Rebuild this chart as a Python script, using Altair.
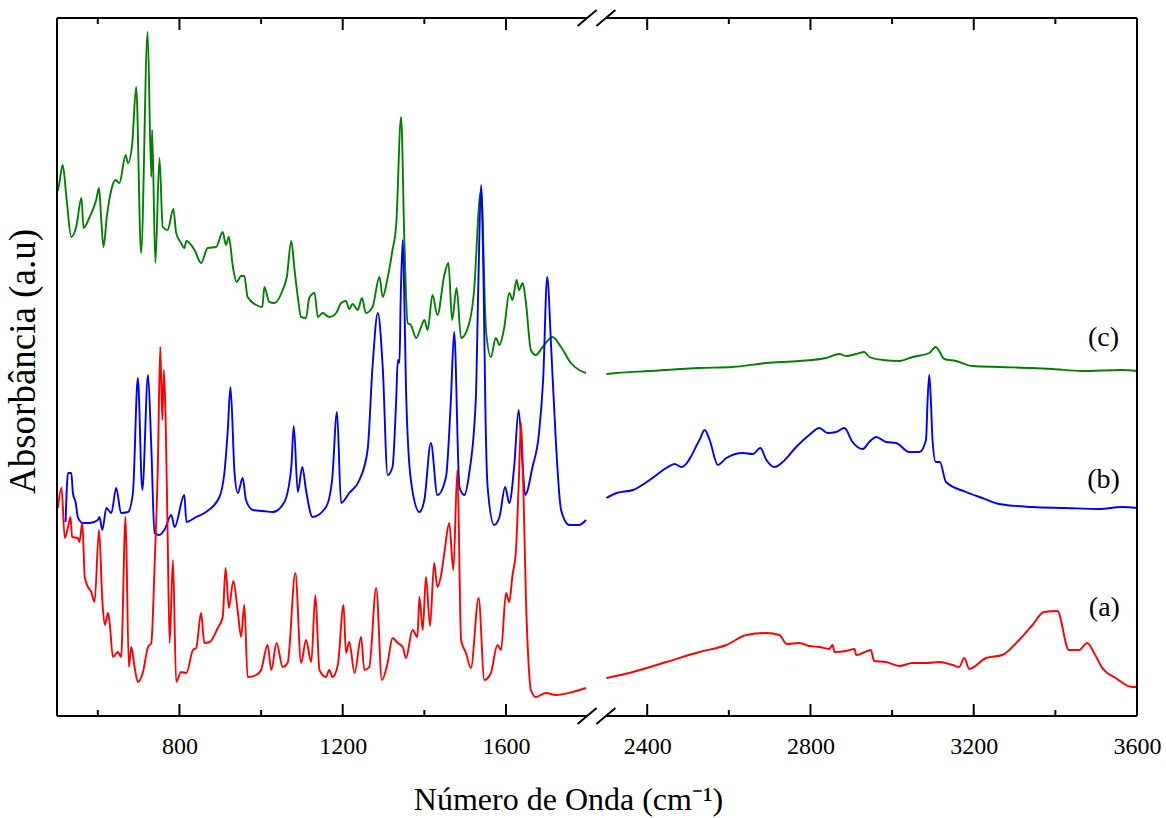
import altair as alt
import pandas as pd

FONT = "Liberation Serif"

# ---- spectra: (wavenumber cm-1, absorbance a.u.) ----
# (c) green
C_LEFT = [(502,5.25),(505,5.31),(514,5.51),(523,5.19),(535,4.79),(547,4.89),(560,5.18),(565,4.88),(580,4.99),(596,5.16),(603,5.28),(608,4.99),(614,4.69),(622,4.99),(633,5.26),(643,5.36),(653,5.33),(668,5.61),(674,5.53),(684,5.71),(694,6.29),(706,4.63),(722,6.84),(731,5.39),(733,5.86),(741,4.53),(751,5.58),(759,4.89),(771,4.86),(785,5.07),(792,4.83),(804,4.73),(812,4.68),(817,4.75),(837,4.66),(853,4.53),(869,4.68),(890,4.69),(906,4.84),(914,4.71),(921,4.79),(931,4.49),(940,4.34),(951,4.40),(959,4.40),(967,4.19),(988,4.11),(1003,4.09),(1008,4.29),(1020,4.14),(1033,4.13),(1053,4.26),(1063,4.39),(1074,4.75),(1082,4.46),(1090,4.19),(1098,3.99),(1110,3.98),(1118,4.18),(1131,4.23),(1139,3.99),(1151,4.03),(1167,3.99),(1184,4.03),(1196,4.13),(1208,4.15),(1216,4.07),(1224,4.12),(1237,4.06),(1247,4.18),(1257,4.03),(1273,4.09),(1290,4.39),(1298,4.19),(1309,4.36),(1322,4.66),(1331,4.91),(1343,5.99),(1351,4.76),(1359,3.93),(1367,3.91),(1380,3.78),(1392,3.89),(1400,3.96),(1408,3.86),(1420,4.21),(1432,4.01),(1449,4.41),(1459,4.53),(1468,3.96),(1479,4.28),(1490,3.78),(1510,3.93),(1522,4.26),(1535,5.16),(1539,5.26),(1551,3.86),(1563,3.59),(1575,3.78),(1584,3.71),(1596,3.89),(1608,4.23),(1616,4.16),(1626,4.36),(1632,4.26),(1641,4.33),(1649,4.13),(1661,3.66),(1673,3.61),(1690,3.69),(1714,3.79),(1735,3.69),(1759,3.53),(1779,3.46),(1796,3.43)]
C_RIGHT = [(2300,3.42),(2325,3.43),(2406,3.45),(2528,3.48),(2609,3.49),(2692,3.53),(2773,3.55),(2838,3.58),(2871,3.62),(2887,3.60),(2912,3.62),(2932,3.64),(2944,3.59),(2977,3.56),(3018,3.55),(3050,3.59),(3091,3.63),(3107,3.69),(3128,3.57),(3156,3.55),(3197,3.50),(3262,3.49),(3343,3.48),(3392,3.47),(3465,3.45),(3563,3.46),(3600,3.45)]

# (b) blue
B_LEFT = [(521,1.94),(527,2.43),(535,2.43),(539,2.23),(546,2.13),(551,1.99),(563,1.93),(580,1.93),(600,1.96),(604,1.99),(611,1.86),(621,2.08),(633,2.03),(645,2.28),(657,2.03),(674,2.04),(686,2.23),(698,3.38),(709,2.26),(723,3.41),(731,2.69),(739,1.83),(751,1.81),(763,1.86),(780,2.01),(788,1.89),(812,2.21),(817,1.94),(841,1.99),(865,2.04),(898,2.19),(910,2.43),(918,2.83),(925,3.29),(935,2.43),(943,2.23),(955,2.38),(963,2.16),(980,2.06),(1004,2.05),(1029,2.04),(1057,2.14),(1074,2.49),(1080,2.90),(1090,2.24),(1101,2.49),(1110,2.26),(1126,1.99),(1159,2.09),(1174,2.36),(1186,3.04),(1196,2.13),(1216,2.23),(1241,2.36),(1261,2.66),(1273,3.49),(1286,4.03),(1298,3.49),(1310,2.41),(1322,2.49),(1331,3.16),(1335,3.56),(1339,3.53),(1342,4.16),(1347,4.76),(1351,4.16),(1355,3.28),(1367,2.36),(1388,2.04),(1400,2.16),(1416,2.73),(1432,2.21),(1453,2.39),(1465,3.16),(1473,3.84),(1486,2.29),(1498,2.21),(1510,2.43),(1526,3.16),(1532,4.26),(1539,5.31),(1545,4.36),(1550,2.96),(1555,2.29),(1571,1.91),(1584,1.99),(1598,2.29),(1608,2.13),(1620,2.49),(1631,3.06),(1641,2.49),(1647,2.21),(1665,2.49),(1681,2.83),(1691,3.36),(1701,4.39),(1711,3.66),(1722,2.76),(1735,2.06),(1755,1.91),(1779,1.91),(1796,1.96)]
B_RIGHT = [(2300,2.18),(2325,2.23),(2365,2.26),(2406,2.36),(2447,2.48),(2467,2.52),(2484,2.49),(2528,2.76),(2541,2.86),(2553,2.76),(2573,2.51),(2594,2.58),(2634,2.63),(2659,2.62),(2677,2.68),(2692,2.56),(2712,2.49),(2732,2.54),(2765,2.69),(2797,2.81),(2822,2.88),(2842,2.83),(2863,2.84),(2883,2.88),(2903,2.74),(2928,2.67),(2944,2.74),(2961,2.79),(2985,2.74),(3010,2.73),(3042,2.64),(3067,2.64),(3083,2.76),(3087,3.16),(3091,3.41),(3095,3.16),(3099,2.76),(3107,2.54),(3117,2.54),(3132,2.34),(3181,2.24),(3221,2.18),(3262,2.12),(3343,2.09),(3425,2.08),(3507,2.07),(3563,2.09),(3600,2.08)]

# (a) red
R_LEFT = [(502,2.08),(511,2.28),(519,1.78),(527,1.89),(533,1.99),(537,1.79),(551,1.78),(555,1.74),(562,1.93),(568,1.39),(576,1.29),(584,1.24),(592,1.14),(603,1.86),(611,1.16),(617,0.91),(625,1.03),(629,0.93),(637,0.59),(649,0.64),(657,0.59),(668,1.99),(676,0.49),(682,0.69),(690,0.49),(698,0.34),(710,0.43),(723,0.69),(731,0.73),(739,1.49),(747,2.49),(753,3.69),(758,2.96),(762,3.46),(766,2.99),(771,1.83),(776,0.73),(784,1.56),(792,0.34),(804,0.44),(817,0.43),(833,0.66),(841,0.68),(853,1.03),(861,0.73),(874,0.74),(894,0.88),(906,0.99),(913,1.48),(921,1.08),(932,1.35),(943,1.04),(951,0.79),(959,1.11),(967,0.39),(988,0.41),(1000,0.46),(1016,0.71),(1025,0.46),(1038,0.73),(1053,0.49),(1065,0.53),(1084,1.43),(1098,0.53),(1110,0.76),(1123,0.54),(1133,1.21),(1143,0.46),(1159,0.39),(1167,0.46),(1175,0.39),(1188,0.51),(1202,1.11),(1208,0.63),(1216,0.74),(1229,0.43),(1245,0.79),(1253,0.46),(1265,0.49),(1282,1.28),(1296,0.36),(1310,0.53),(1322,0.78),(1335,0.73),(1347,0.69),(1355,0.58),(1371,0.86),(1383,0.79),(1388,1.19),(1396,0.86),(1404,1.39),(1414,0.90),(1424,1.53),(1432,1.29),(1441,1.41),(1449,1.63),(1461,1.93),(1471,1.46),(1481,2.46),(1490,0.76),(1502,0.63),(1514,0.48),(1533,1.18),(1547,0.36),(1563,0.43),(1579,0.71),(1588,0.66),(1600,1.23),(1608,1.14),(1616,1.41),(1624,1.63),(1631,2.30),(1637,2.93),(1643,2.20),(1649,1.16),(1655,0.55),(1661,0.26),(1673,0.19),(1698,0.23),(1722,0.21),(1763,0.24),(1796,0.28)]
R_RIGHT = [(2300,0.38),(2365,0.44),(2447,0.54),(2528,0.64),(2594,0.71),(2643,0.81),(2692,0.83),(2724,0.81),(2742,0.72),(2773,0.73),(2797,0.70),(2822,0.69),(2846,0.67),(2854,0.71),(2859,0.64),(2887,0.65),(2908,0.67),(2912,0.61),(2928,0.63),(2948,0.66),(2956,0.55),(2985,0.54),(3018,0.50),(3050,0.53),(3083,0.53),(3115,0.54),(3148,0.51),(3164,0.49),(3177,0.58),(3189,0.47),(3230,0.58),(3270,0.61),(3311,0.76),(3344,0.91),(3372,1.04),(3405,1.05),(3433,0.66),(3458,0.66),(3478,0.73),(3495,0.63),(3515,0.48),(3548,0.38),(3588,0.29),(3600,0.29)]

# curve labels
LABELS = ["(a)", "(b)", "(c)"]
LABEL_WN = [3520, 3518, 3518]
LABEL_A = [1.08, 2.36, 3.78]

# axis
MAJOR_TICKS = [800, 1200, 1600, 2400, 2800, 3200, 3600]
MINOR_TICKS = [600, 1000, 1400, 2600, 3000, 3400]
BREAK_LO, BREAK_HI, GAP = 1800, 2300, 46
SHIFT = BREAK_HI - BREAK_LO - GAP
X_DOMAIN = [500, 3600 - SHIFT]
Y_DOMAIN = [0, 6.98]
COLORS = {"a": "#ff0000", "b": "#0000ff", "c": "#008000"}

W, H = 1080, 698

rows = []
for key, left, right in [("c", C_LEFT, C_RIGHT), ("b", B_LEFT, B_RIGHT), ("a", R_LEFT, R_RIGHT)]:
    for seg, pts in (("L", left), ("R", right)):
        for wn, a in pts:
            rows.append({"series": key, "seg": seg, "wn": wn, "a": a})
df = pd.DataFrame(rows)

cx_expr = f"datum.wn > {BREAK_LO + 100} ? datum.wn - {SHIFT} : datum.wn"
xscale = alt.Scale(domain=X_DOMAIN, nice=False, zero=False)
yscale = alt.Scale(domain=Y_DOMAIN, nice=False, zero=False)

tick_vals = [v - SHIFT if v > BREAK_LO else v for v in MAJOR_TICKS]
x_axis = alt.Axis(
    values=tick_vals,
    labelExpr=f"datum.value > {BREAK_LO + 10} ? format(datum.value + {SHIFT}, 'd') : format(datum.value, 'd')",
    ticks=False, domain=False, grid=False,
    labelFont=FONT, labelFontSize=24, labelColor="black", labelPadding=18,
    labelFlush=False, labelOverlap=False,
    title="Número de Onda (cm⁻¹)", titleFont=FONT, titleFontSize=32,
    titleFontWeight="normal", titleColor="black",
    titleX=511, titleY=93, titleBaseline="alphabetic", titleAlign="center",
)
y_axis = alt.Axis(
    labels=False, ticks=False, domain=False, grid=False,
    title="Absorbância (a.u)", titleFont=FONT, titleFontSize=37,
    titleFontWeight="normal", titleColor="black", titleAngle=270,
    titleBaseline="middle", titleAlign="center", titleX=-34, titleY=343,
)

def spectrum(key, first=False):
    return (
        alt.Chart(df)
        .transform_filter(alt.datum.series == key)
        .transform_calculate(cx=cx_expr)
        .mark_line(strokeWidth=1.9, color=COLORS[key], interpolate="monotone")
        .encode(
            x=alt.X("cx:Q", scale=xscale, axis=x_axis if first else None),
            y=alt.Y("a:Q", scale=yscale, axis=y_axis if first else None),
            detail="seg:N",
            order="cx:Q",
        )
    )

layers = [spectrum("c", first=True), spectrum("b"), spectrum("a")]

# frame with axis break (decoration, pixel space)
bl = (BREAK_LO - X_DOMAIN[0]) / (X_DOMAIN[1] - X_DOMAIN[0]) * W
br = (BREAK_LO + GAP - X_DOMAIN[0]) / (X_DOMAIN[1] - X_DOMAIN[0]) * W
frame = pd.DataFrame([
    {"x1": 0, "x2": 0, "y1": 0, "y2": H},
    {"x1": W, "x2": W, "y1": 0, "y2": H},
    {"x1": 0, "x2": bl, "y1": 0, "y2": 0},
    {"x1": br, "x2": W, "y1": 0, "y2": 0},
    {"x1": 0, "x2": bl, "y1": H, "y2": H},
    {"x1": br, "x2": W, "y1": H, "y2": H},
])
slashes = []
for xc in (bl - 0.5, br - 0.5):
    for yc in (0, H):
        slashes.append({"x1": xc - 9.5, "x2": xc + 9.5, "y1": yc + 8, "y2": yc - 8})
slashes = pd.DataFrame(slashes)

def seg_layer(data, width):
    return alt.Chart(data).mark_rule(color="black", strokeWidth=width).encode(
        x=alt.X("x1:Q", scale=None, axis=None), x2="x2:Q",
        y=alt.Y("y1:Q", scale=None, axis=None), y2="y2:Q",
    )

layers.append(seg_layer(frame, 2))
layers.append(seg_layer(slashes, 2))

# inward ticks on bottom and top
tick_df = pd.DataFrame(
    [{"wn": v, "kind": "major"} for v in MAJOR_TICKS if v < 3600]
    + [{"wn": v, "kind": "minor"} for v in MINOR_TICKS]
)
for kind, length in (("major", 12), ("minor", 6)):
    for y0, y1 in ((H, H - length), (0, length)):
        layers.append(
            alt.Chart(tick_df)
            .transform_filter(alt.datum.kind == kind)
            .transform_calculate(cx=cx_expr)
            .mark_rule(color="black", strokeWidth=2)
            .encode(
                x=alt.X("cx:Q", scale=xscale, axis=None),
                y=alt.value(y0), y2=alt.value(y1),
            )
        )

lab_df = pd.DataFrame({"label": LABELS, "wn": LABEL_WN, "a": LABEL_A})
layers.append(
    alt.Chart(lab_df)
    .transform_calculate(cx=cx_expr)
    .mark_text(font=FONT, fontSize=28, color="black", align="center", baseline="middle")
    .encode(
        x=alt.X("cx:Q", scale=xscale, axis=None),
        y=alt.Y("a:Q", scale=yscale, axis=None),
        text="label:N",
    )
)

chart = (
    alt.layer(*layers)
    .resolve_scale(x="independent", y="independent")
    .properties(
        width=W, height=H,
        autosize=alt.AutoSizeParams(type="none"),
        padding={"left": 57, "top": 18, "right": 29, "bottom": 102},
        background="white",
    )
    .configure_view(stroke=None)
)

chart.save("out.html", embed_options={"renderer": "svg", "actions": False})
